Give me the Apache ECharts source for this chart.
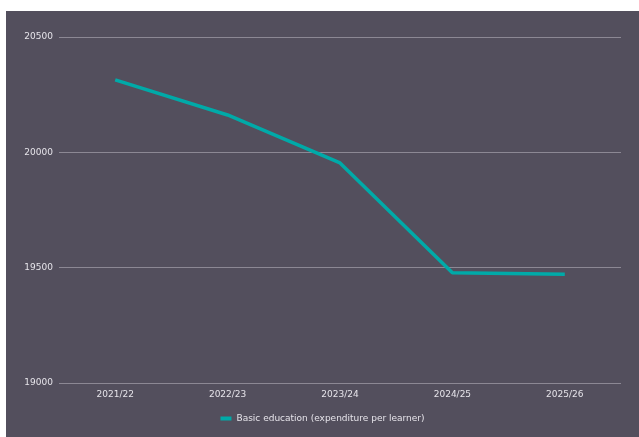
<!DOCTYPE html>
<html>
<head>
<meta charset="utf-8">
<script src="https://cdn.jsdelivr.net/npm/echarts@6/dist/echarts.min.js"></script>
<style>
  html, body { margin: 0; padding: 0; background: #ffffff; }
  #chart { position: absolute; left: 6px; top: 11px; width: 633px; height: 426px; }
</style>
</head>
<body>
<div id="chart"></div>
<script>
// Financial years on the x axis
const years = ['2021/22', '2022/23', '2023/24', '2024/25', '2025/26'];
// Basic education spending per learner
const perLearner = [20314, 20162, 19954, 19478, 19472];
const seriesName = 'Basic education (expenditure per learner)';
// Value axis range
const yMin = 19000;
const yMax = 20500;
const yStep = 500;

const chart = echarts.init(document.getElementById('chart'));
chart.setOption({
  backgroundColor: '#534f5d',
  animation: false,
  grid: { left: 53, right: 18, top: 26, bottom: 54 },
  legend: {
    bottom: 9,
    left: 'center',
    itemWidth: 11,
    itemHeight: 4,
    icon: 'rect',
    itemGap: 7,
    textStyle: { color: '#e6e4ea', fontSize: 9, fontFamily: 'DejaVu Sans' },
    data: [seriesName]
  },
  xAxis: {
    type: 'category',
    data: years,
    boundaryGap: true,
    axisLine: { show: false },
    axisTick: { show: false },
    axisLabel: { color: '#e6e4ea', fontSize: 9, fontFamily: 'DejaVu Sans', margin: 7 }
  },
  yAxis: {
    type: 'value',
    min: yMin,
    max: yMax,
    interval: yStep,
    axisLine: { show: false },
    axisTick: { show: false },
    axisLabel: { color: '#e6e4ea', fontSize: 9, fontFamily: 'DejaVu Sans', margin: 6, formatter: v => String(v) },
    splitLine: { lineStyle: { color: '#8c8894', width: 1 } }
  },
  series: [{
    name: seriesName,
    type: 'line',
    data: perLearner,
    symbol: 'none',
    lineStyle: { color: '#00aaa8', width: 3.5 },
    itemStyle: { color: '#00aaa8' }
  }]
});
</script>
</body>
</html>
